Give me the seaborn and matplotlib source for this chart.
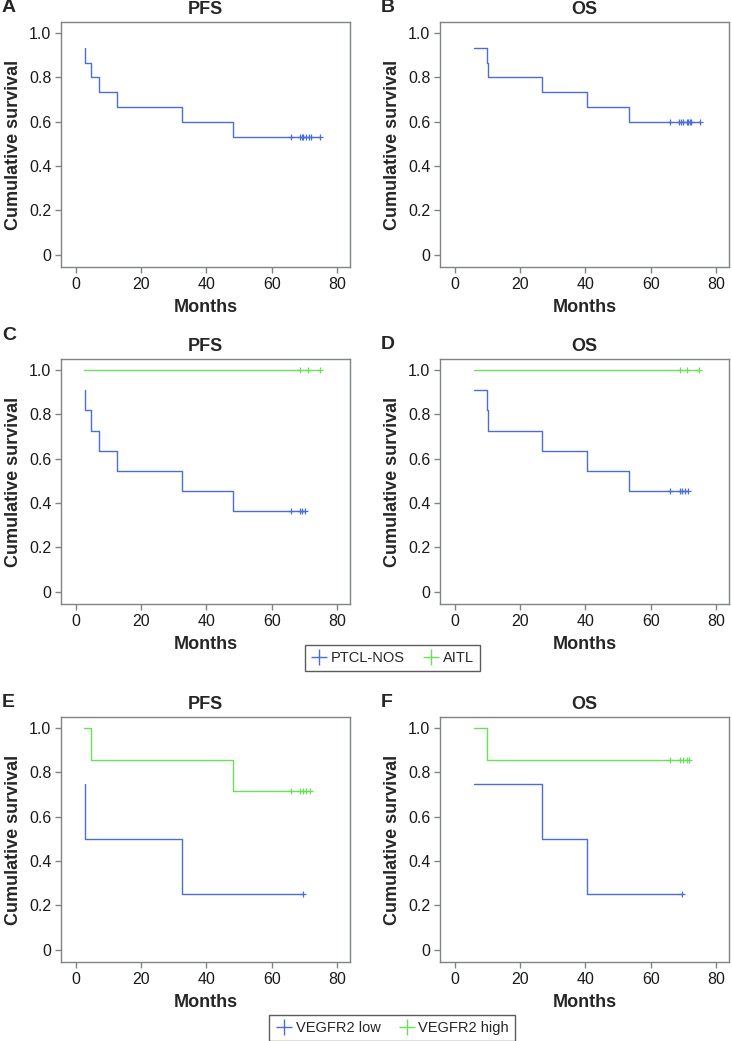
import seaborn as sns
import matplotlib.pyplot as plt
import pandas as pd

# =========================
# description: Kaplan-Meier step curves
# =========================

# A: PFS, all patients
a_t = [2.8, 2.8, 4.8, 7.2, 12.8, 32.5, 48.3, 74.9]
a_s = [0.933, 0.867, 0.800, 0.733, 0.667, 0.600, 0.533, 0.533]
a_cens = [65.8, 68.7, 69.2, 69.5, 70.6, 71.5, 72.1, 74.9]

# B: OS, all patients
b_t = [6.0, 9.8, 10.3, 26.8, 40.6, 53.4, 75.2]
b_s = [0.933, 0.867, 0.800, 0.733, 0.667, 0.600, 0.600]
b_cens = [66.0, 68.8, 69.3, 70.0, 71.0, 71.5, 72.0, 72.3, 75.2]

# C: PFS by subtype
c_nos_t = [2.8, 2.8, 4.8, 7.2, 12.8, 32.5, 48.3, 70.2]
c_nos_s = [0.909, 0.818, 0.727, 0.636, 0.545, 0.455, 0.364, 0.364]
c_nos_cens = [65.8, 68.8, 69.4, 70.2]
c_aitl_t = [2.6, 74.9]
c_aitl_s = [1.0, 1.0]
c_aitl_cens = [68.7, 71.1, 74.9]

# D: OS by subtype
d_nos_t = [6.0, 9.8, 10.3, 26.8, 40.6, 53.4, 71.5]
d_nos_s = [0.909, 0.818, 0.727, 0.636, 0.545, 0.455, 0.455]
d_nos_cens = [66.0, 69.0, 69.6, 70.4, 71.5]
d_aitl_t = [6.0, 74.8]
d_aitl_s = [1.0, 1.0]
d_aitl_cens = [69.0, 71.1, 74.8]

# E: PFS by VEGFR2
e_low_t = [2.8, 2.8, 32.5, 69.5]
e_low_s = [0.75, 0.50, 0.25, 0.25]
e_low_cens = [69.5]
e_high_t = [2.6, 4.6, 48.3, 71.6]
e_high_s = [1.0, 0.857, 0.714, 0.714]
e_high_cens = [65.8, 68.7, 69.5, 70.6, 71.6]

# F: OS by VEGFR2
f_low_t = [6.0, 26.8, 40.6, 69.5]
f_low_s = [0.75, 0.50, 0.25, 0.25]
f_low_cens = [69.5]
f_high_t = [6.0, 10.0, 71.8]
f_high_s = [1.0, 0.857, 0.857]
f_high_cens = [66.0, 69.0, 70.0, 71.0, 71.8]

panel_letters = ["A", "B", "C", "D", "E", "F"]
panel_titles = ["PFS", "OS", "PFS", "OS", "PFS", "OS"]
legend1 = ["PTCL-NOS", "AITL"]
legend2 = ["VEGFR2 low", "VEGFR2 high"]

BLUE = "#4a6ed6"
GREEN = "#6ae05a"
SPINE = "#7f8585"

sns.set_theme(style="white")
plt.rcParams["font.family"] = ["Liberation Sans", "DejaVu Sans"]


def km_curve(ax, t, s, cens, color):
    df = pd.DataFrame({"t": t, "s": s})
    sns.lineplot(data=df, x="t", y="s", ax=ax, color=color, lw=1.0,
                 drawstyle="steps-post", estimator=None, sort=False)
    # censor marks sit on the final survival level
    cdf = pd.DataFrame({"t": cens, "s": [s[-1]] * len(cens)})
    ax.plot(cdf["t"], cdf["s"], ls="none", marker="+", ms=5, mew=0.9, color=color)


fig = plt.figure(figsize=(7.32, 10.41), dpi=100)
lefts = [61 / 732, 440 / 732]
bottoms = [1 - 267 / 1041, 1 - 604 / 1041, 1 - 962 / 1041]
w = 289 / 732
h = 245 / 1041

axes = []
for r in range(3):
    for c in range(2):
        ax = fig.add_axes([lefts[c], bottoms[r], w, h])
        axes.append(ax)

curves = [
    [(a_t, a_s, a_cens, BLUE)],
    [(b_t, b_s, b_cens, BLUE)],
    [(c_nos_t, c_nos_s, c_nos_cens, BLUE), (c_aitl_t, c_aitl_s, c_aitl_cens, GREEN)],
    [(d_nos_t, d_nos_s, d_nos_cens, BLUE), (d_aitl_t, d_aitl_s, d_aitl_cens, GREEN)],
    [(e_low_t, e_low_s, e_low_cens, BLUE), (e_high_t, e_high_s, e_high_cens, GREEN)],
    [(f_low_t, f_low_s, f_low_cens, BLUE), (f_high_t, f_high_s, f_high_cens, GREEN)],
]

letter_y = [1.06, 1.06, 1.094, 1.058, 1.06, 1.058]

for i, ax in enumerate(axes):
    for t, s, cens, col in curves[i]:
        km_curve(ax, t, s, cens, col)
    ax.set_xlim(-4.5, 84)
    ax.set_ylim(-0.055, 1.05)
    ax.set_xticks([0, 20, 40, 60, 80])
    ax.set_yticks([0, 0.2, 0.4, 0.6, 0.8, 1.0])
    ax.set_yticklabels(["0", "0.2", "0.4", "0.6", "0.8", "1.0"])
    ax.tick_params(axis="both", direction="out", length=4, width=1, color=SPINE,
                   labelsize=11.5, labelcolor="#1a1a1a", left=True, bottom=True, pad=3)
    for sp in ax.spines.values():
        sp.set_color(SPINE)
        sp.set_linewidth(1.0)
    ax.set_xlabel("Months", fontsize=13, fontweight="bold", labelpad=5)
    ax.set_ylabel("Cumulative survival", fontsize=13, fontweight="bold", labelpad=5)
    ax.text(0.5, 1.052, panel_titles[i], transform=ax.transAxes, fontsize=13,
            fontweight="bold", ha="center", va="center")
    ax.text(-0.205, letter_y[i], panel_letters[i], transform=ax.transAxes,
            fontsize=14, fontweight="bold", va="center", ha="left")

# shared legends under the rows
h1 = [plt.Line2D([], [], ls="none", marker="+", ms=11, mew=1, color=BLUE),
      plt.Line2D([], [], ls="none", marker="+", ms=11, mew=1, color=GREEN)]
fig.legend(h1, legend1, loc="center", bbox_to_anchor=(392 / 732, 1 - 658 / 1041),
           ncol=2, frameon=True, fancybox=False, edgecolor="#333333", fontsize=10.5,
           handletextpad=0.2, columnspacing=1.2, borderpad=0.4, handlelength=1.2)
fig.legend(h1, legend2, loc="center", bbox_to_anchor=(392 / 732, 1 - 1028 / 1041),
           ncol=2, frameon=True, fancybox=False, edgecolor="#333333", fontsize=10.5,
           handletextpad=0.2, columnspacing=1.2, borderpad=0.4, handlelength=1.2)

plt.savefig("out.png", dpi=100)
